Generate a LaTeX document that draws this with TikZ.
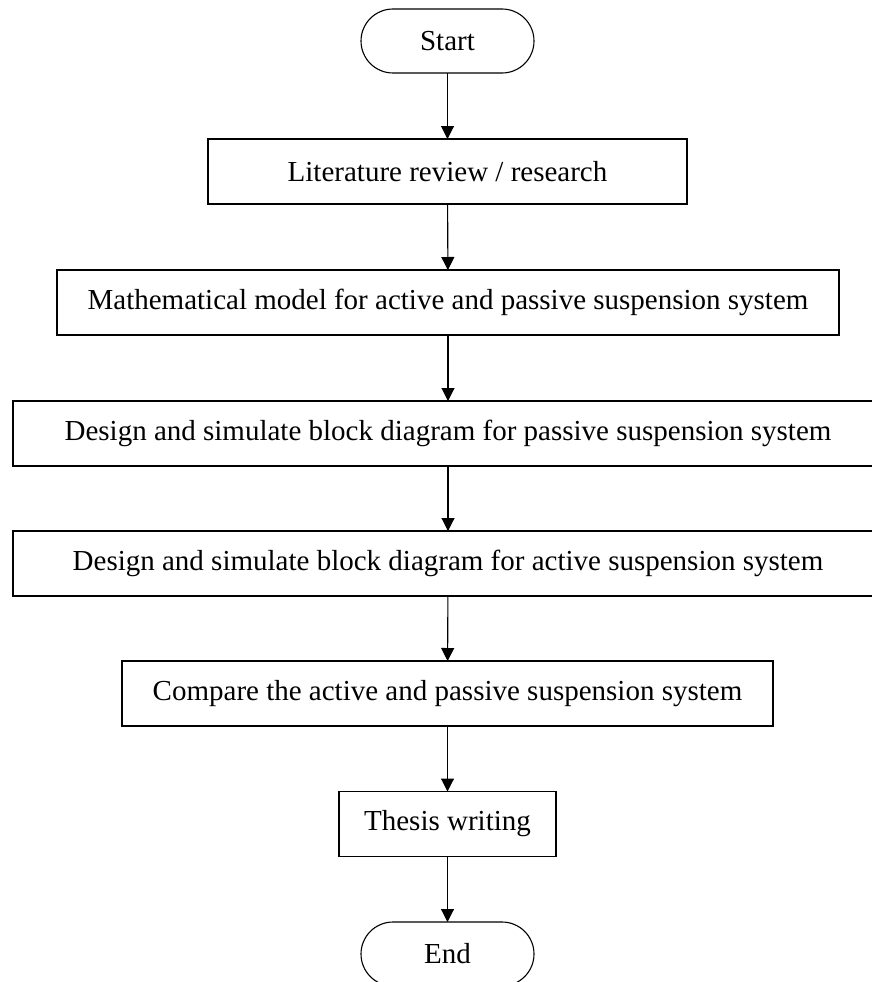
\documentclass[tikz,border=0pt]{standalone}
\usepackage{fontspec}
\setmainfont{Liberation Serif}
\usetikzlibrary{arrows.meta}
\tikzset{
  box/.style={draw, line width=1.1pt, rectangle, inner sep=0pt, outer sep=0pt, minimum height=65pt, font=\fontsize{29}{35}\selectfont},
  term/.style={box, rounded corners=32pt, minimum width=173pt, minimum height=64pt},
  flow/.style={line width=1.1pt, -{Triangle[length=13pt,width=13pt]}}
}
\begin{document}
\begin{tikzpicture}[x=1pt,y=-1pt]
\useasboundingbox (0,0) rectangle (871,982);
\node[term] (start) at (447.5,41) {Start};
\node[box, minimum width=479pt] (lit) at (447.5,171.5) {Literature review / research};
\node[box, minimum width=782pt] (math) at (448,302.5) {Mathematical model for active and passive suspension system};
\node[box, minimum width=870pt] (pas) at (448,433.5) {Design and simulate block diagram for passive suspension system};
\node[box, minimum width=870pt] (act) at (448,563.5) {Design and simulate block diagram for active suspension system};
\node[box, minimum width=651pt] (cmp) at (447.5,693.5) {Compare the active and passive suspension system};
\node[box, minimum width=217pt] (thesis) at (447.5,824) {Thesis writing};
\node[term] (end) at (447.5,954) {End};
\draw[flow] (start) -- (lit);
\draw[flow] (lit) -- (math);
\draw[flow] (math) -- (pas);
\draw[flow] (pas) -- (act);
\draw[flow] (act) -- (cmp);
\draw[flow] (cmp) -- (thesis);
\draw[flow] (thesis) -- (end);
\end{tikzpicture}
\end{document}
